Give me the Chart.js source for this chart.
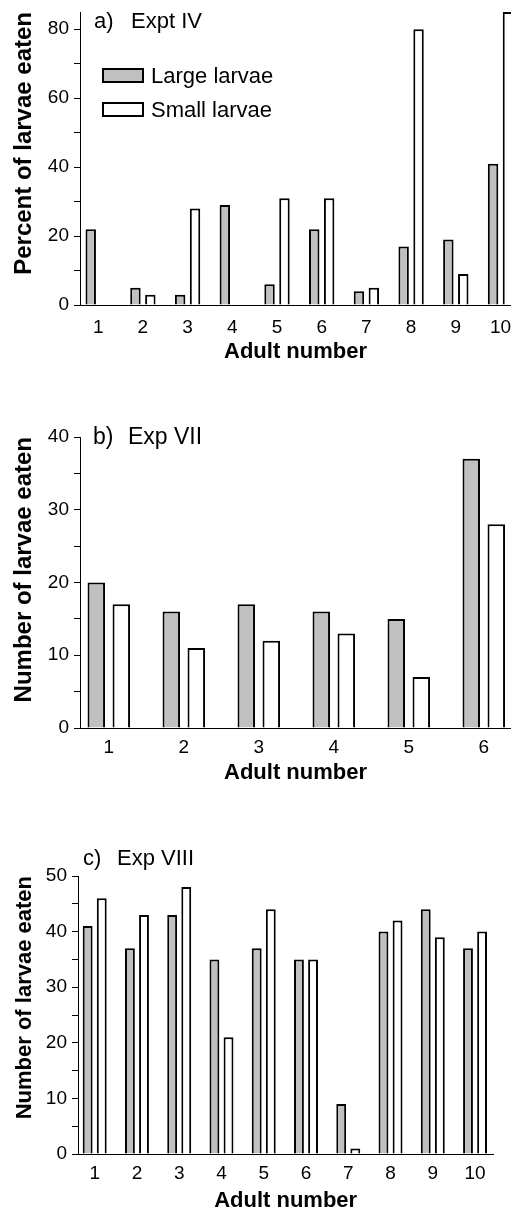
<!DOCTYPE html>
<html>
<head>
<meta charset="utf-8">
<script src="https://cdn.jsdelivr.net/npm/chart.js@4.4.1/dist/chart.umd.min.js"></script>
<style>
  html, body { margin: 0; padding: 0; background: #fff; overflow: hidden; }
  body { width: 511px; height: 1214px; position: relative; font-family: "Liberation Sans", Arial, sans-serif; color: #000; }
  canvas { position: absolute; left: 0; }
  .tag { position: absolute; font-size: 22px; line-height: 22px; white-space: nowrap; }
  .swatch { position: absolute; left: 102px; width: 42px; height: 15px; box-sizing: border-box; border: 2px solid #000; }
  .keytxt { position: absolute; left: 151px; font-size: 22px; line-height: 22px; white-space: nowrap; }
</style>
</head>
<body>
<canvas id="chartA" style="top:0px" width="511" height="365"></canvas>
<canvas id="chartB" style="top:400px" width="511" height="386"></canvas>
<canvas id="chartC" style="top:840px" width="511" height="374"></canvas>

<div class="tag" style="left:94px; top:10px">a)</div>
<div class="tag" style="left:131px; top:10px">Expt IV</div>
<div class="tag" style="left:93px; top:425px; font-size:23px; line-height:23px">b)</div>
<div class="tag" style="left:128px; top:425px; font-size:23px; line-height:23px">Exp VII</div>
<div class="tag" style="left:83px; top:847px">c)</div>
<div class="tag" style="left:117px; top:847px">Exp VIII</div>

<div class="swatch" style="top:68px; background:#c0c0c0"></div>
<div class="keytxt" id="key0" style="top:65px"></div>
<div class="swatch" style="top:102px; background:#fff"></div>
<div class="keytxt" id="key1" style="top:99px"></div>

<script>
// data
const seriesNames = ['Large larvae', 'Small larvae'];
const xTitle = 'Adult number';

// a) Expt IV  (percent eaten)
const adultsA = [1, 2, 3, 4, 5, 6, 7, 8, 9, 10];
const largeA = [22, 5, 3, 29, 6, 22, 4, 17, 19, 41];
const smallA = [0, 3, 28, 0, 31, 31, 5, 80, 9, 85];

// b) Exp VII  (number eaten)
const adultsB = [1, 2, 3, 4, 5, 6];
const largeB = [20, 16, 17, 16, 15, 37];
const smallB = [17, 11, 12, 13, 7, 28];

// c) Exp VIII  (number eaten)
const adultsC = [1, 2, 3, 4, 5, 6, 7, 8, 9, 10];
const largeC = [41, 37, 43, 35, 37, 35, 9, 40, 44, 37];
const smallC = [46, 43, 48, 21, 44, 35, 1, 42, 39, 40];

const family = "'Liberation Sans', Arial, sans-serif";
const tickFont = { family: family, size: 19 };

document.getElementById('key0').textContent = seriesNames[0];
document.getElementById('key1').textContent = seriesNames[1];

function points(xs, ys) {
    return xs.map((x, i) => ({ x: x, y: ys[i] }));
}

function makePanel(canvasId, cfg) {
    const ctx = document.getElementById(canvasId).getContext('2d');
    return new Chart(ctx, {
        type: 'bar',
        data: {
            datasets: [{
                label: seriesNames[0],
                data: points(cfg.adults, cfg.large),
                backgroundColor: '#c0c0c0',
                borderColor: '#000',
                borderWidth: 2
            }, {
                label: seriesNames[1],
                data: points(cfg.adults, cfg.small),
                backgroundColor: '#fff',
                borderColor: '#000',
                borderWidth: 2
            }]
        },
        options: {
            responsive: false,
            animation: false,
            events: [],
            categoryPercentage: 0.667,
            barPercentage: 0.7,
            layout: { padding: { top: cfg.padTop, right: cfg.padRight, left: 0, bottom: 0 } },
            plugins: {
                legend: { display: false },
                tooltip: { enabled: false }
            },
            scales: {
                x: {
                    type: 'linear',
                    offset: false,
                    min: cfg.xMin,
                    max: cfg.xMax,
                    grid: { display: false, drawTicks: false, drawOnChartArea: false },
                    border: { display: true, color: '#000', width: 1 },
                    ticks: {
                        stepSize: 1,
                        includeBounds: false,
                        autoSkip: false,
                        maxRotation: 0,
                        padding: cfg.xTickPad,
                        color: '#000',
                        font: tickFont
                    },
                    title: {
                        display: true,
                        text: xTitle,
                        color: '#000',
                        font: { family: family, size: 22, weight: 'bold' },
                        padding: { top: 0, bottom: 0 }
                    },
                    afterFit: s => {
                        s.height = cfg.xAxisHeight;
                        s.paddingLeft = 0;
                        s.paddingRight = 0;
                    }
                },
                y: {
                    min: 0,
                    max: cfg.yMax,
                    grid: { drawOnChartArea: false, drawTicks: true, tickLength: 6, color: '#000', tickColor: '#000' },
                    border: { display: true, color: '#000', width: 1 },
                    ticks: {
                        stepSize: cfg.yStep,
                        includeBounds: false,
                        padding: 5,
                        color: '#000',
                        font: tickFont,
                        callback: v => (v % cfg.yLabelEvery === 0 ? v : '')
                    },
                    title: {
                        display: true,
                        text: cfg.yTitle,
                        align: 'end',
                        color: '#000',
                        font: { family: family, size: cfg.yTitleSize, weight: 'bold' },
                        padding: { top: cfg.yTitlePad, bottom: 0 }
                    },
                    afterFit: s => {
                        s.width = cfg.yAxisWidth;
                        s.paddingTop = 0;
                        s.paddingBottom = 0;
                    }
                }
            }
        }
    });
}

makePanel('chartA', {
    adults: adultsA, large: largeA, small: smallA,
    xMin: 0.593, xMax: 10.235, padTop: 12, padRight: 0,
    yMax: 85, yStep: 10, yLabelEvery: 20,
    xTickPad: 11, xAxisHeight: 60, yAxisWidth: 80,
    yTitle: 'Percent of larvae eaten', yTitleSize: 24, yTitlePad: 9.6
});

makePanel('chartB', {
    adults: adultsB, large: largeB, small: smallB,
    xMin: 0.616, xMax: 6.363, padTop: 37, padRight: 0,
    yMax: 40, yStep: 5, yLabelEvery: 10,
    xTickPad: 8, xAxisHeight: 58, yAxisWidth: 80,
    yTitle: 'Number of larvae eaten', yTitleSize: 24, yTitlePad: 9.6
});

makePanel('chartC', {
    adults: adultsC, large: largeC, small: smallC,
    xMin: 0.605, xMax: 10.432, padTop: 36, padRight: 17.7,
    yMax: 50, yStep: 5, yLabelEvery: 10,
    xTickPad: 8, xAxisHeight: 60, yAxisWidth: 78,
    yTitle: 'Number of larvae eaten', yTitleSize: 22, yTitlePad: 11.8
});
</script>
</body>
</html>
